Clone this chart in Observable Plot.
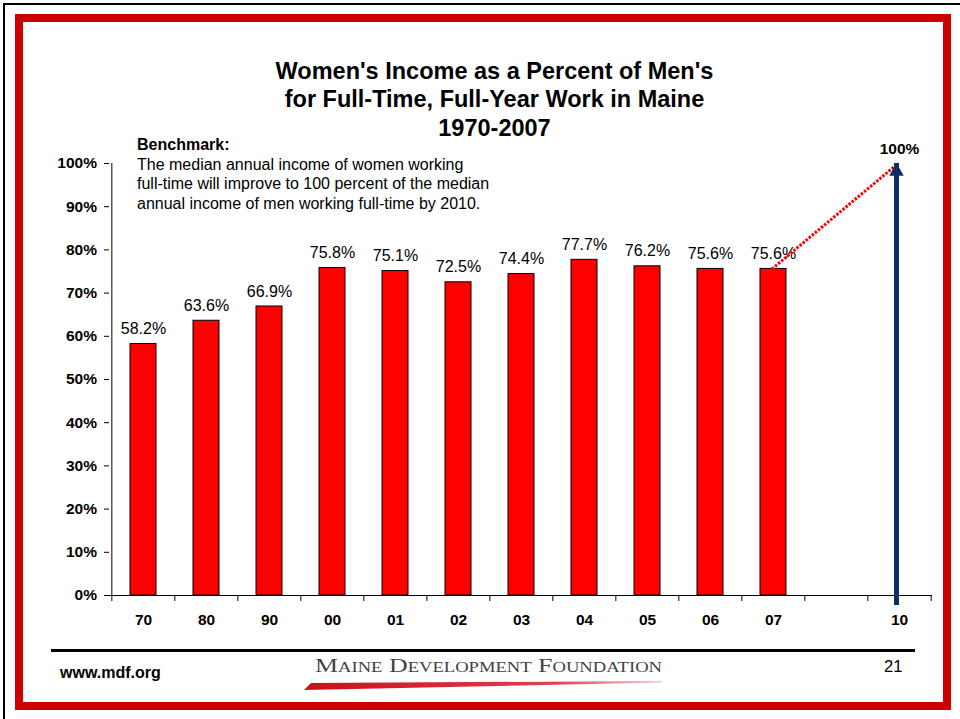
<!DOCTYPE html>
<html><head><meta charset="utf-8">
<script src="https://cdn.jsdelivr.net/npm/d3@7"></script>
<script src="https://cdn.jsdelivr.net/npm/@observablehq/plot@0.6"></script>
<style>
body{margin:0;background:#fff;}
#page{position:relative;width:960px;height:719px;overflow:hidden;background:#fff;font-family:"Liberation Sans",Arial,sans-serif;color:#000;}
.abs{position:absolute;white-space:nowrap;}
</style></head><body>
<div id="page">
  <div class="abs" style="left:3px;top:3px;width:980px;height:740px;border-top:2px solid #000;border-left:2px solid #000;"></div>
  <div class="abs" style="left:15px;top:14px;width:936px;height:696px;border:8px solid #cc0000;box-sizing:border-box;"></div>
  <div id="chart" class="abs" style="left:0;top:0;"></div>
  <div class="abs" style="left:94.5px;top:57px;width:800px;text-align:center;font-weight:bold;font-size:23.5px;line-height:28.3px;">Women's Income as a Percent of Men's<br>for Full-Time, Full-Year Work in Maine<br>1970-2007</div>
  <div class="abs" style="left:137px;top:135.4px;font-size:16px;line-height:19.5px;"><b>Benchmark:</b><br>The median annual income of women working<br>full-time will improve to 100 percent of the median<br>annual income of men working full-time by 2010.</div>
  <div class="abs" style="left:51px;top:648.5px;width:864px;height:3px;background:#000;"></div>
  <div class="abs" style="left:60px;top:664px;font-size:16px;font-weight:bold;line-height:18px;">www.mdf.org</div>
  <div class="abs" style="left:884px;top:656.5px;font-size:16.5px;line-height:19px;">21</div>
  <svg class="abs" style="left:0;top:0;" width="960" height="719">
    <defs>
      <linearGradient id="sw" x1="0" x2="1" y1="0" y2="0">
        <stop offset="0" stop-color="#c8101a"/>
        <stop offset="0.7" stop-color="#e04050"/>
        <stop offset="1" stop-color="#f4c8cc"/>
      </linearGradient>
    </defs>
    <polygon points="304,690 311,683 662,681 662,682.5" fill="url(#sw)"/>
    <text x="315" y="671.7" textLength="347" lengthAdjust="spacingAndGlyphs" font-family="Liberation Serif, DejaVu Serif, serif" font-size="19.5" fill="#3f4245" style="font-variant:small-caps;">Maine Development Foundation</text>
  </svg>
</div>
<script>
const categories = ["70","80","90","00","01","02","03","04","05","06","07","","10"];
const barYears = ["70","80","90","00","01","02","03","04","05","06","07"];
const ratios = [58.2, 63.6, 66.9, 75.8, 75.1, 72.5, 74.4, 77.7, 76.2, 75.6, 75.6];
const goalYear = "10";
const goalValue = 100;
const yTicks = [0, 10, 20, 30, 40, 50, 60, 70, 80, 90, 100];

const bars = barYears.map((c, i) => ({cat: c, value: ratios[i]}));
const goal = [{cat: goalYear, value: goalValue}];
const trend = [{x1: barYears[barYears.length - 1], y1: ratios[ratios.length - 1], x2: goalYear, y2: goalValue}];

const W = 960, H = 719, ML = 109, MR = 28, MT = 163, MB = 124;
const step = (W - ML - MR) / categories.length;
const navy = "#0b3162";

const chart = Plot.plot({
  width: W, height: H,
  marginLeft: ML, marginRight: MR, marginTop: MT, marginBottom: MB,
  style: {fontFamily: "Liberation Sans, Arial, sans-serif", background: "transparent", color: "#000", overflow: "visible"},
  x: {type: "band", domain: categories, paddingInner: 0.59, paddingOuter: 0.295, align: 0.5},
  y: {domain: [0, 100]},
  marks: [
    Plot.barY(bars, {x: "cat", y: "value", fill: "#ff0000", stroke: "#000", strokeWidth: 1}),
    Plot.ruleY([0], {stroke: "#000", strokeWidth: 1}),
    Plot.ruleX([categories[0]], {y1: 0, y2: 100, dx: -step / 2, stroke: "#000", strokeWidth: 1}),
    Plot.axisY({ticks: yTicks, tickFormat: d => d + "%", tickSize: 5, tickPadding: 7.5, fontSize: 15.5, fontWeight: "bold", label: null}),
    Plot.axisX({tickSize: 0, tickPadding: 18, fontSize: 15.5, fontWeight: "bold", label: null}),
    Plot.axisX({tickSize: 6, tickFormat: () => "", dx: -step / 2, label: null}),
    Plot.axisX({ticks: [categories[categories.length - 1]], tickSize: 6, tickFormat: () => "", dx: step / 2, label: null}),
    Plot.text(bars, {x: "cat", y: "value", text: d => d.value.toFixed(1) + "%", dy: -15, fontSize: 16}),
    Plot.link(trend, {x1: "x1", y1: "y1", x2: "x2", y2: "y2", stroke: "#ff0000", strokeWidth: 3, strokeDasharray: "2.5,1.5", dx: -1.5}),
    Plot.ruleX(goal, {x: "cat", y1: 0, y2: "value", stroke: navy, strokeWidth: 5, insetTop: 10, dx: -3}),
    Plot.dot(goal, {x: "cat", y: "value", symbol: "triangle", r: 5.4, fill: navy, stroke: "none", dy: 8, dx: -3}),
    Plot.text(goal, {x: "cat", y: "value", text: d => d.value + "%", dy: -14, fontSize: 15.5, fontWeight: "bold"})
  ]
});
document.getElementById("chart").appendChild(chart);
</script>
</body></html>
